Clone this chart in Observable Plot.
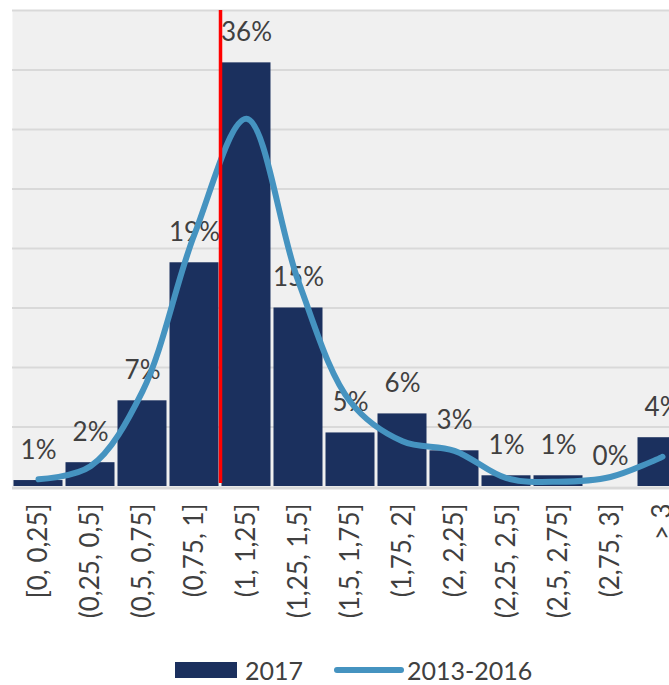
<!DOCTYPE html>
<html>
<head>
<meta charset="utf-8">
<script src="https://cdn.jsdelivr.net/npm/d3@7"></script>
<script src="https://cdn.jsdelivr.net/npm/@observablehq/plot@0.6"></script>
<style>
  html, body { margin: 0; padding: 0; background: #ffffff; overflow: hidden; }
  #wrap { position: relative; width: 669px; height: 685px; }
  #legend { position: absolute; top: 656px; left: 175px; display: flex; align-items: center;
            font-family: Lato, "Open Sans", sans-serif; font-size: 25px; line-height: 28px; color: #404040; white-space: nowrap; }
</style>
</head>
<body>
<div id="wrap"><div id="chart"></div><div id="legend"></div></div>
<script>
// Bins (lower / upper edges), tick labels
const binLabels = ["[0, 0,25]", "(0,25, 0,5]", "(0,5, 0,75]", "(0,75, 1]", "(1, 1,25]", "(1,25, 1,5]",
  "(1,5, 1,75]", "(1,75, 2]", "(2, 2,25]", "(2,25, 2,5]", "(2,5, 2,75]", "(2,75, 3]", "> 3"];
const binLower = [0, 0.25, 0.5, 0.75, 1, 1.25, 1.5, 1.75, 2, 2.25, 2.5, 2.75, 3];
const binUpper = [0.25, 0.5, 0.75, 1, 1.25, 1.5, 1.75, 2, 2.25, 2.5, 2.75, 3, 3.25];
// Series (% of total)
const series2017 = [0.5, 2.0, 7.2, 18.8, 35.6, 15.0, 4.5, 6.1, 3.0, 0.9, 0.9, 0, 4.1];
const series2013_2016 = [0.6, 1.7, 8.0, 21.2, 30.9, 17.2, 7.1, 3.8, 3.0, 0.7, 0.4, 0.8, 2.5];
const seriesNames = ["2017", "2013-2016"];
const yTicks = [5, 10, 15, 20, 25, 30, 35, 40];
const threshold = [1];

const colors = { bar: "#1b305e", line: "#4593c0", text: "#404040", grid: "#d9d9d9", bg: "#f0f0f0", red: "#ff0000" };

const data = binLabels.map((label, i) => ({
  label, lo: binLower[i], hi: binUpper[i], mid: (binLower[i] + binUpper[i]) / 2,
  v17: series2017[i], v1316: series2013_2016[i]
}));
const labelByMid = new Map(data.map(d => [d.mid, d.label]));

const chart = Plot.plot({
  width: 669,
  height: 645,
  marginLeft: 12,
  marginRight: -19,
  marginTop: 10,
  marginBottom: 159,
  style: { fontFamily: "Lato, 'Open Sans', sans-serif", fontSize: "26px", color: colors.text, background: "transparent", overflow: "hidden" },
  x: { domain: [0, 3.25] },
  y: { domain: [0, 40], axis: null },
  marks: [
    Plot.frame({ fill: colors.bg, stroke: "none" }),
    Plot.ruleY(yTicks, { stroke: colors.grid, strokeWidth: 2 }),
    Plot.rectY(data, { x1: "lo", x2: "hi", y: "v17", fill: colors.bar, insetLeft: 1.5, insetRight: 1.5 }),
    Plot.ruleY([0], { stroke: colors.grid, strokeWidth: 3, dy: 1.5 }),
    Plot.text(data, { x: "mid", y: "v17", text: d => Math.round(d.v17) + "%", dy: -22, lineAnchor: "bottom",
      fontSize: 26, fill: colors.text }),
    Plot.line(data, { x: "mid", y: "v1316", curve: "catmull-rom", stroke: colors.line, strokeWidth: 6,
      strokeLinecap: "round", strokeLinejoin: "round" }),
    Plot.ruleX(threshold, { y1: 0, y2: 40, insetTop: -3, stroke: colors.red, strokeWidth: 3.5 }),
    Plot.axisX(data.map(d => d.mid), { tickFormat: d => labelByMid.get(d), tickRotate: -90, tickSize: 0,
      tickPadding: 17, fontSize: 26, fill: colors.text, label: null })
  ]
});
document.getElementById("chart").appendChild(chart);

// Legend
const legend = document.getElementById("legend");
legend.innerHTML =
  `<span style="display:inline-block;width:62px;height:16px;background:${colors.bar}"></span>` +
  `<span style="margin-left:8px">${seriesNames[0]}</span>` +
  `<span style="display:inline-block;width:70px;height:6px;border-radius:3px;background:${colors.line};margin-left:31px"></span>` +
  `<span style="margin-left:3px">${seriesNames[1]}</span>`;
</script>
</body>
</html>
